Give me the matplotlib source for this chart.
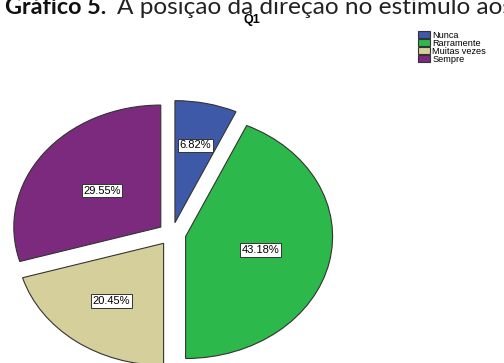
import matplotlib
matplotlib.use("Agg")
import matplotlib.pyplot as plt
import numpy as np

# Q1 answer shares
categories = ["Nunca", "Rarramente", "Muitas vezes", "Sempre"]
shares = [6.82, 43.18, 20.45, 29.55]
colors = ["#3f59a9", "#2db84b", "#d5cf9c", "#7b2a7e"]

# per-slice label distance from the slice centre
label_dist = [0.65, 0.52, 0.59, 0.50]

fig = plt.figure(figsize=(5.04, 3.63), dpi=100)
ax = fig.add_axes([0, 0, 1, 1])

wedges, _ = ax.pie(
    shares,
    colors=colors,
    startangle=90,
    counterclock=False,
    explode=[0.095] * len(shares),
    wedgeprops=dict(edgecolor="#333333", linewidth=0.8),
    normalize=True,
)

for w, d, v in zip(wedges, label_dist, shares):
    mid = np.deg2rad((w.theta1 + w.theta2) / 2)
    cx, cy = w.center
    ax.text(cx + d * np.cos(mid), cy + d * np.sin(mid), f"{v:.2f}%",
            ha="center", va="center", fontsize=8, family="Liberation Sans",
            bbox=dict(boxstyle="square,pad=0.15", fc="white", ec="#333333", lw=0.7))

# pie centre sits left of middle, bottom runs off the page
ax.set_aspect("auto")
ax.set_xlim(-1.170, 2.259)
ax.set_ylim(-1.057, 1.918)
ax.axis("off")

ax.legend(wedges, categories, loc="upper left",
          bbox_to_anchor=(418 / 504, 1 - 31 / 363), bbox_transform=fig.transFigure,
          frameon=False, prop={"family": "Liberation Sans", "size": 6.6},
          handlelength=1.3, handleheight=0.75, handletextpad=0.25,
          labelspacing=-0.12, borderpad=0, borderaxespad=0)

fig.text(252 / 504, 1 - 19.5 / 363, "Q1", ha="center", va="center",
         fontsize=9, fontweight="bold", family="Liberation Sans")

# caption above the chart, partly running off the top edge
renderer = fig.canvas.get_renderer()
base_y = 1 - 14 / 363


def fit_text(x, s, width_px, **kw):
    t = fig.text(x, base_y, s, va="baseline", family="Lato", fontsize=18, **kw)
    w = t.get_window_extent(renderer).width
    t.set_fontsize(18 * width_px / w)
    return t


fit_text(5 / 504, "Gráfico 5.", 102, fontweight="bold", color="#111111")
fit_text(117 / 504, "A posição da direção no estímulo aos", 395, color="#222222")

fig.savefig("out.png", dpi=100)
